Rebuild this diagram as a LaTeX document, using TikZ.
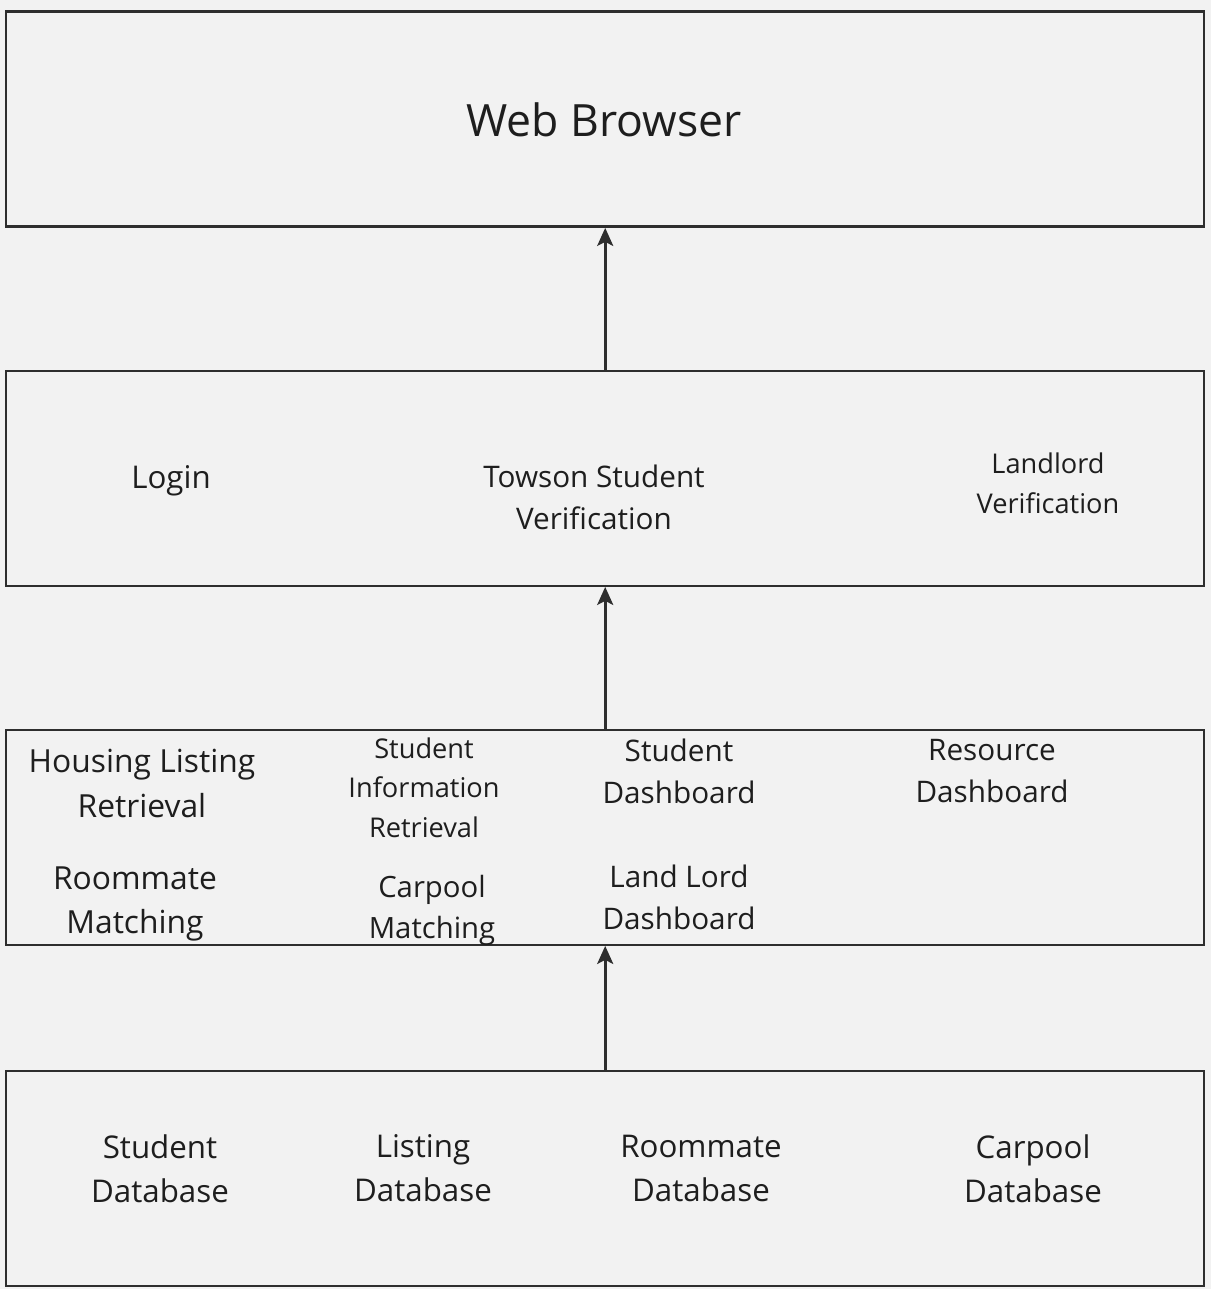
\documentclass[tikz,border=0pt]{standalone}
\usepackage{fontspec}
\setmainfont{Open Sans}
\usetikzlibrary{arrows.meta}
\definecolor{bgc}{HTML}{F2F2F2}
\definecolor{linec}{HTML}{2E2E2E}
\definecolor{txtc}{HTML}{1E1E1E}
\begin{document}
\begin{tikzpicture}[x=1pt,y=-1pt,
  layer/.style={draw=linec,line width=2.4pt,minimum width=1198pt,minimum height=215pt,inner sep=0pt,anchor=north west},
  lbl/.style={text=txtc,align=center,inner sep=0pt},
  fA/.style={font=\fontsize{31.3}{44}\selectfont},
  fB/.style={font=\fontsize{29.7}{42}\selectfont},
  fC/.style={font=\fontsize{27.2}{39.5}\selectfont},
  conn/.style={draw=linec,line width=2.6pt,-{Stealth[length=18pt,width=16pt,inset=4pt]}}
]
\fill[bgc] (0,0) rectangle (1211,1289);
\useasboundingbox (0,0) rectangle (1211,1289);

\node[layer] (web) at (5,10.5) {};
\node[layer] (ver) at (5,369.5) {};
\node[layer] (mid) at (5,728.5) {};
\node[layer] (db) at (5,1069.5) {};

\node[lbl,font=\fontsize{44.5}{52}\selectfont] (wb) at (604,120) {Web Browser};

\node[lbl,fA] (login) at (171,481) {Login};
\node[lbl,fB] (towson) at (594,497) {Towson Student\\Verification};
\node[lbl,fC] (land) at (1048,483.5) {Landlord\\Verification};

\node[lbl,font=\fontsize{31.8}{45}\selectfont] (housing) at (142,783.5) {Housing Listing\\Retrieval};
\node[lbl,fC] (sinfo) at (424,787.5) {Student\\Information\\Retrieval};
\node[lbl,fB] (sdash) at (679,771) {Student\\Dashboard};
\node[lbl,fB] (rdash) at (992,771) {Resource\\Dashboard};
\node[lbl,font=\fontsize{31.8}{44}\selectfont] (rmatch) at (135,904) {Roommate\\Matching};
\node[lbl,font=\fontsize{29.3}{41}\selectfont] (cmatch) at (432,910) {Carpool\\Matching};
\node[lbl,fB] (ldash) at (679,897) {Land Lord\\Dashboard};

\node[lbl,fA] (sdb) at (160,1168.5) {Student\\Database};
\node[lbl,fA] (ldb) at (423,1168.5) {Listing\\Database};
\node[lbl,fA] (rdb) at (701,1168.5) {Roommate\\Database};
\node[lbl,fA] (cdb) at (1033,1168.5) {Carpool\\Database};

\draw[conn] (ver.north) -- (web.south);
\draw[conn] (mid.north) -- (ver.south);
\draw[conn] (db.north) -- (mid.south);
\end{tikzpicture}
\end{document}
